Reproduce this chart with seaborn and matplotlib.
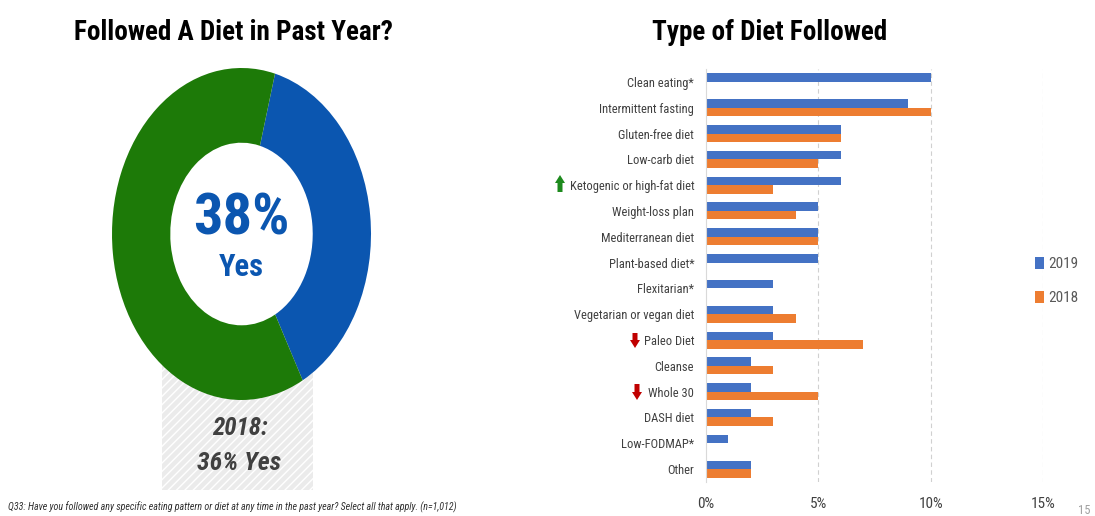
import matplotlib
matplotlib.use('Agg')
import matplotlib.pyplot as plt
from matplotlib.patches import Rectangle, Polygon
from matplotlib.font_manager import fontManager
import seaborn as sns
import pandas as pd
import numpy as np

# data
diets = ['Clean eating*', 'Intermittent fasting', 'Gluten-free diet', 'Low-carb diet',
         'Ketogenic or high-fat diet', 'Weight-loss plan', 'Mediterranean diet',
         'Plant-based diet*', 'Flexitarian*', 'Vegetarian or vegan diet', 'Paleo Diet',
         'Cleanse', 'Whole 30', 'DASH diet', 'Low-FODMAP*', 'Other']
pct_2019 = [10, 9, 6, 6, 6, 5, 5, 5, 3, 3, 3, 2, 2, 2, 1, 2]
pct_2018 = [np.nan, 10, 6, 5, 3, 4, 5, np.nan, np.nan, 4, 7, 3, 5, 3, np.nan, 2]
years = ['2019', '2018']

donut_labels = ['Yes', 'No']
donut_values = [38, 62]

sns.set_style('white')
names = {f.name for f in fontManager.ttflist}
narrow = 'DejaVu Sans'
for cand in ['Liberation Sans Narrow', 'Roboto Condensed', 'DejaVu Sans Condensed',
             'Open Sans Condensed', 'Roboto']:
    if cand in names:
        narrow = cand
        break
plt.rcParams['font.family'] = [narrow, 'DejaVu Sans']

W, H = 1095, 516
fig = plt.figure(figsize=(W / 100, H / 100), dpi=100)
fig.patch.set_facecolor('white')


def fx(px):
    return px / W


def fy(py):
    return 1 - py / H


# gray hatched box behind the donut
box = Rectangle((fx(162), fy(490)), fx(313) - fx(162), fy(350) - fy(490),
                transform=fig.transFigure, facecolor='#EBEBEB', edgecolor='white',
                hatch='////', linewidth=0, zorder=-1)
fig.patches.append(box)

# donut
ax1 = fig.add_axes([fx(112), fy(400), fx(259), 332 / H])
ax1.pie(donut_values, colors=['#0B56B0', '#1D7A08'], startangle=75, counterclock=False,
        wedgeprops=dict(width=0.45, edgecolor='none'))
ax1.set_aspect('auto')
ax1.set_xlim(-1, 1)
ax1.set_ylim(-1, 1)
ax1.patch.set_alpha(0)
ax1.axis('off')
ax1.text(0, 0.09, f'{donut_values[0]}%', ha='center', va='center', fontsize=42,
         fontweight='bold', color='#0B56B0')
ax1.text(0, -0.2, donut_labels[0], ha='center', va='center', fontsize=22,
         fontweight='bold', color='#0B56B0')

fig.text(fx(240), fy(428), '2018:', ha='center', va='center', fontsize=18,
         fontweight='bold', style='italic', color='#404040')
fig.text(fx(239), fy(463), '36% Yes', ha='center', va='center', fontsize=18.5,
         fontweight='bold', style='italic', color='#404040')

fig.text(fx(233), fy(33), 'Followed A Diet in Past Year?', ha='center', va='center',
         fontsize=19.5, fontweight='bold', color='black')
fig.text(fx(770), fy(33), 'Type of Diet Followed', ha='center', va='center',
         fontsize=19.5, fontweight='bold', color='black')

fig.text(fx(8), fy(507),
         'Q33: Have you followed any specific eating pattern or diet at any time in the past year? '
         'Select all that apply. (n=1,012)',
         ha='left', va='center', fontsize=7.2, style='italic', color='#303030')
fig.text(fx(1078), fy(511), '15', ha='left', va='center', fontsize=9, color='#A0A0A0')

# bar chart
df = pd.DataFrame({'diet': diets * 2,
                   'year': [years[0]] * len(diets) + [years[1]] * len(diets),
                   'pct': pct_2019 + pct_2018})
ax2 = fig.add_axes([fx(706), fy(482), fx(1043) - fx(706), (482 - 69) / H])
sns.barplot(data=df, x='pct', y='diet', hue='year', order=diets, hue_order=years,
            palette=['#4472C4', '#ED7D31'], width=0.66, ax=ax2, orient='h',
            saturation=1, legend=True, edgecolor='none')
ax2.set_xlim(0, 15)
ax2.set_ylim(len(diets) - 0.5, -0.5)
ax2.set_xticks([0, 5, 10, 15])
ax2.set_xticklabels(['0%', '5%', '10%', '15%'], fontsize=11, color='#404040')
ax2.tick_params(axis='x', length=0, pad=11)
ax2.tick_params(axis='y', length=0, pad=8.5, labelsize=9.0, labelcolor='#404040')
ax2.set_xlabel('')
ax2.set_ylabel('')
for s in ['top', 'right', 'bottom']:
    ax2.spines[s].set_visible(False)
ax2.spines['left'].set_color('#D9D9D9')
for v in [5, 10, 15]:
    ax2.axvline(v, color='#D0D0D0', linestyle=(0, (4, 3)), linewidth=0.8, zorder=0)

handles, labels = ax2.get_legend_handles_labels()
ax2.legend(handles, labels, loc='center left', bbox_to_anchor=(fx(1021), fy(281)),
           bbox_transform=fig.transFigure, frameon=False, handlelength=0.6,
           handleheight=0.8, handletextpad=0.3, labelspacing=1.3, fontsize=11,
           labelcolor='#595959')


def arrow(x, ytop, ybot, up, color):
    hw, sw = 5, 2.5
    if up:
        head = ytop + 8
        pts = [(x, ytop), (x + hw, head), (x + sw, head), (x + sw, ybot),
               (x - sw, ybot), (x - sw, head), (x - hw, head)]
    else:
        head = ybot - 8
        pts = [(x, ybot), (x + hw, head), (x + sw, head), (x + sw, ytop),
               (x - sw, ytop), (x - sw, head), (x - hw, head)]
    fig.patches.append(Polygon([(fx(a), fy(b)) for a, b in pts], closed=True,
                               transform=fig.transFigure, facecolor=color,
                               edgecolor='none'))


arrow(560, 175, 192, True, '#1D8A1D')
arrow(635, 333, 348, False, '#C00000')
arrow(637, 384, 400, False, '#C00000')

fig.savefig('out.png', dpi=100)
